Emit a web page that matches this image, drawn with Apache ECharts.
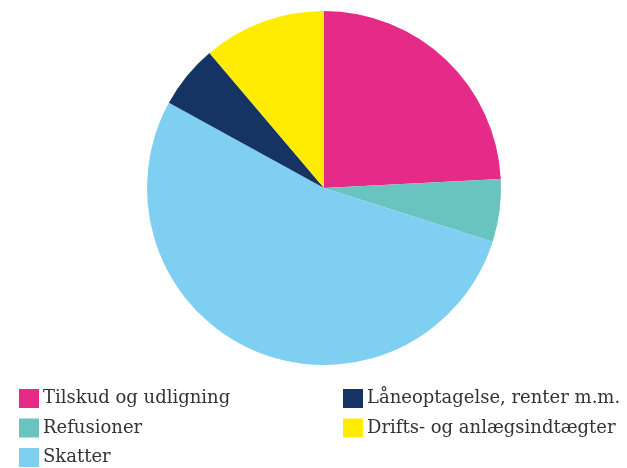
<!DOCTYPE html>
<html>
<head>
<meta charset="utf-8">
<script src="https://cdn.jsdelivr.net/npm/echarts@6/dist/echarts.min.js"></script>
<style>
  html, body { margin: 0; padding: 0; background: #fff; }
  #chart { width: 627px; height: 468px; }
</style>
</head>
<body>
<div id="chart"></div>
<script>
// data (percent of total)
const categories = [
    'Tilskud og udligning',
    'Refusioner',
    'Skatter',
    'Låneoptagelse, renter m.m.',
    'Drifts- og anlægsindtægter'
];
const values = [24.2, 5.7, 53.1, 5.8, 11.2];
const colors = ['#E52A87', '#69C3BF', '#7FCFF3', '#163463', '#FFEC00'];

const leftLegend = categories.slice(0, 3);
const rightLegend = categories.slice(3);

const chart = echarts.init(document.getElementById('chart'));

const legendBase = {
    orient: 'vertical',
    top: 389,
    height: 90,
    padding: 0,
    itemWidth: 20,
    itemHeight: 19,
    itemGap: 10.5,
    icon: 'rect',
    textStyle: {
        fontFamily: 'DejaVu Serif',
        fontSize: 18,
        color: '#333',
        padding: [0, 0, 0, -1]
    }
};

const option = {
    animation: false,
    legend: [
        { ...legendBase, left: 19, data: leftLegend },
        { ...legendBase, left: 343, data: rightLegend }
    ],
    series: [
        {
            name: 'Indtægter',
            type: 'pie',
            center: [324, 188],
            radius: 177,
            startAngle: 90,
            clockwise: true,
            label: { show: false },
            labelLine: { show: false },
            itemStyle: { borderWidth: 0 },
            emphasis: { disabled: true },
            data: categories.map((name, i) => ({
                name: name,
                value: values[i],
                itemStyle: { color: colors[i] }
            }))
        }
    ]
};

chart.setOption(option);
</script>
</body>
</html>
